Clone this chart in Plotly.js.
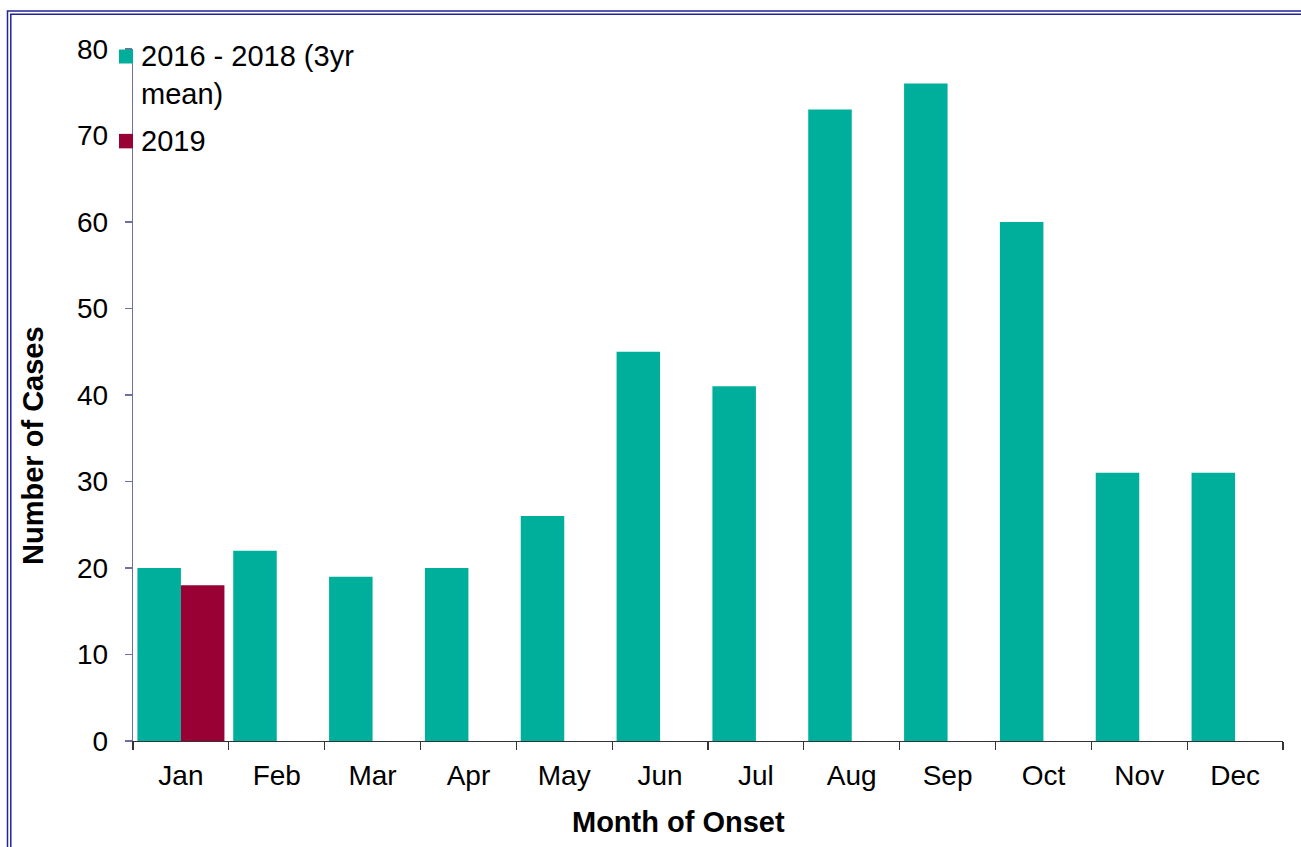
<!DOCTYPE html>
<html>
<head>
<meta charset="utf-8">
<script src="https://cdn.plot.ly/plotly-3.0.1.min.js"></script>
<style>
html,body{margin:0;padding:0;background:#fff;}
#chart{width:1301px;height:847px;}
</style>
</head>
<body>
<div id="chart"></div>
<script>
var months = ['Jan','Feb','Mar','Apr','May','Jun','Jul','Aug','Sep','Oct','Nov','Dec'];
var meanName = '2016 - 2018 (3yr<br>mean)';
var meanValues = [20, 22, 19, 20, 26, 45, 41, 73, 76, 60, 31, 31];
var name2019 = '2019';
var values2019 = [18, null, null, null, null, null, null, null, null, null, null, null];
var xTitle = 'Month of Onset';
var yTitle = 'Number of Cases';

var tealColor = '#00AE9C';
var redColor = '#990033';
var borderColor = '#22229a';
var fontFam = '"Liberation Sans", Arial, sans-serif';

var W = 1301, H = 847;
var L = 133, R = 1283, T = 48.5, B = 741.5;
function px(x){ return (x - L) / (R - L); }
function py(y){ return (B - y) / (B - T); }

var traces = [
  {type:'bar', x: months, y: meanValues, name: meanName,
   marker:{color: tealColor, line:{width:0}}, hoverinfo:'x+y'},
  {type:'bar', x: months, y: values2019, name: name2019,
   marker:{color: redColor, line:{width:0}}, hoverinfo:'x+y'}
];

var layout = {
  width: W, height: H,
  paper_bgcolor:'#ffffff', plot_bgcolor:'#ffffff',
  margin:{l: L, r: W - R, t: T, b: H - B, pad:0},
  barmode:'group', bargap: 0.092, bargroupgap: 0,
  showlegend:false,
  font:{family: fontFam, size: 28, color:'#000'},
  xaxis:{
    type:'category', range:[-0.5, 11.5],
    showline:true, linecolor:'#333333', linewidth:1.3,
    ticks:'outside', tickson:'boundaries', ticklen:8, tickcolor:'#333333', tickwidth:1.3,
    tickfont:{family: fontFam, size:28, color:'#000'}, ticklabelstandoff:9,
    showgrid:false, zeroline:false
  },
  yaxis:{
    range:[0,80], dtick:10, tick0:0,
    showline:true, linecolor:'#6f6f9f', linewidth:1.3,
    ticks:'outside', ticklen:7, tickcolor:'#6f6f9f', tickwidth:1.3,
    tickfont:{family: fontFam, size:28, color:'#000'}, ticklabelstandoff:11,
    showgrid:false, zeroline:false
  },
  shapes:[
    {type:'rect', xref:'paper', yref:'paper', x0:px(7.5), x1:px(1320), y0:py(10.5), y1:py(870),
     line:{color:borderColor, width:1.5}, fillcolor:'rgba(0,0,0,0)', layer:'above'},
    {type:'rect', xref:'paper', yref:'paper', x0:px(10.8), x1:px(1320), y0:py(13.8), y1:py(870),
     line:{color:borderColor, width:1.5}, fillcolor:'rgba(0,0,0,0)', layer:'above'},
    {type:'rect', xref:'paper', yref:'paper', x0:px(119), x1:px(133), y0:py(49), y1:py(63),
     line:{width:0}, fillcolor:tealColor, layer:'above'},
    {type:'rect', xref:'paper', yref:'paper', x0:px(119), x1:px(133), y0:py(133.5), y1:py(148),
     line:{width:0}, fillcolor:redColor, layer:'above'}
  ],
  annotations:[
    {xref:'paper', yref:'paper', x:px(139), y:py(37), xanchor:'left', yanchor:'top', align:'left',
     showarrow:false, text: meanName, font:{family: fontFam, size:29, color:'#000'}},
    {xref:'paper', yref:'paper', x:px(139), y:py(141), xanchor:'left', yanchor:'middle', align:'left',
     showarrow:false, text: name2019, font:{family: fontFam, size:29, color:'#000'}},
    {xref:'paper', yref:'paper', x:px(678), y:py(823), xanchor:'center', yanchor:'middle',
     showarrow:false, text: xTitle, font:{family: fontFam, size:29, color:'#000', weight:'bold'}},
    {xref:'paper', yref:'paper', x:px(33), y:py(446), xanchor:'center', yanchor:'middle', textangle:-90,
     showarrow:false, text: yTitle, font:{family: fontFam, size:29, color:'#000', weight:'bold'}}
  ]
};

Plotly.newPlot('chart', traces, layout, {staticPlot:true, displayModeBar:false});
</script>
</body>
</html>
